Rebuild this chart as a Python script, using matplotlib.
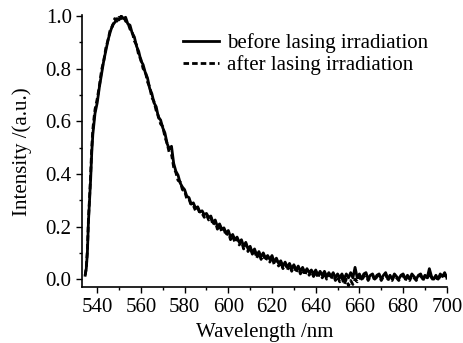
import numpy as np
import matplotlib
matplotlib.use("Agg")
import matplotlib.pyplot as plt
from matplotlib.ticker import MultipleLocator, FormatStrFormatter

plt.rcParams['font.family'] = ['Liberation Serif', 'DejaVu Serif']

# wavelength grid: fine steps on the steep rise, then 1 nm
wl_rise = [534.5, 535, 535.5, 536, 536.5, 537, 537.5, 538, 538.5]
wl_main = list(range(539, 701))
wavelength = wl_rise + wl_main

before = [0.015, 0.04, 0.10, 0.22, 0.30, 0.38, 0.48, 0.55, 0.59,
          0.63, 0.67, 0.73, 0.78, 0.83, 0.87, 0.91, 0.94, 0.965, 0.975,
          0.99, 0.985, 1.00, 0.99, 0.995, 0.97, 0.965, 0.935, 0.92, 0.885,
          0.865, 0.83, 0.815, 0.785, 0.765, 0.725, 0.705, 0.67, 0.655, 0.615,
          0.605, 0.575, 0.555, 0.515, 0.495, 0.505, 0.44, 0.41, 0.395, 0.365,
          0.35, 0.34, 0.315, 0.31, 0.285, 0.29, 0.27, 0.275, 0.255, 0.26,
          0.245, 0.25, 0.235, 0.24, 0.215, 0.225, 0.20, 0.21, 0.19, 0.195,
          0.175, 0.185, 0.16, 0.17, 0.15, 0.16, 0.14, 0.15, 0.125, 0.14,
          0.115, 0.125, 0.10, 0.115, 0.09, 0.105, 0.085, 0.10, 0.08, 0.09,
          0.075, 0.09, 0.065, 0.08, 0.06, 0.07, 0.05, 0.065, 0.045, 0.06,
          0.04, 0.055, 0.035, 0.05, 0.03, 0.045, 0.025, 0.04, 0.025, 0.035,
          0.02, 0.035, 0.015, 0.03, 0.015, 0.03, 0.01, 0.025, 0.01, 0.025,
          0.005, 0.02, 0.005, 0.02, 0.0, 0.02, 0.005, 0.025, 0.005, 0.045,
          0.005, 0.02, 0.0, 0.02, 0.025, 0.0, 0.015, 0.02, 0.0, 0.015,
          0.02, 0.0, 0.015, 0.025, 0.0, 0.015, 0.0, 0.02, 0.01, 0.0,
          0.015, 0.02, 0.0, 0.015, 0.0, 0.02, 0.01, 0.0, 0.015, 0.02,
          0.0, 0.015, 0.005, 0.04, 0.01, 0.0, 0.015, 0.0, 0.02, 0.01,
          0.025, 0.005]

after = [0.015, 0.045, 0.11, 0.23, 0.31, 0.40, 0.50, 0.57, 0.61,
         0.645, 0.685, 0.735, 0.795, 0.83, 0.88, 0.91, 0.95, 0.96, 0.99,
         0.98, 0.995, 0.99, 1.00, 0.98, 0.975, 0.95, 0.94, 0.905, 0.89,
         0.85, 0.835, 0.80, 0.79, 0.75, 0.73, 0.69, 0.675, 0.64, 0.62,
         0.59, 0.58, 0.54, 0.515, 0.48, 0.475, 0.425, 0.405, 0.375, 0.37,
         0.34, 0.335, 0.305, 0.305, 0.28, 0.28, 0.26, 0.27, 0.25, 0.25,
         0.235, 0.245, 0.225, 0.235, 0.205, 0.22, 0.19, 0.205, 0.18, 0.19,
         0.165, 0.18, 0.15, 0.165, 0.14, 0.155, 0.13, 0.145, 0.115, 0.135,
         0.105, 0.12, 0.095, 0.11, 0.08, 0.10, 0.075, 0.095, 0.07, 0.085,
         0.065, 0.085, 0.055, 0.075, 0.05, 0.065, 0.04, 0.06, 0.035, 0.055,
         0.03, 0.05, 0.025, 0.045, 0.02, 0.04, 0.015, 0.035, 0.015, 0.03,
         0.01, 0.03, 0.005, 0.025, 0.005, 0.025, 0.0, 0.02, 0.0, 0.02,
         -0.005, 0.01, -0.01, 0.005, -0.02, 0.0, -0.025, -0.005, -0.02, 0.0,
         -0.01, 0.01, -0.005, 0.01, 0.015, -0.005, 0.01, 0.015, -0.005, 0.01,
         0.015, -0.005, 0.01, 0.02, -0.005, 0.01, -0.005, 0.015, 0.005, -0.005,
         0.01, 0.015, -0.005, 0.01, -0.005, 0.015, 0.005, -0.005, 0.01, 0.015,
         -0.005, 0.01, 0.0, 0.025, 0.005, -0.005, 0.01, -0.005, 0.015, 0.005,
         0.02, 0.0]

fig = plt.figure(figsize=(4.64, 3.43), dpi=100)
ax = fig.add_axes([0.177, 0.163, 0.786, 0.792])

ax.plot(wavelength, before, color='black', lw=2.0, ls='-', label='before lasing irradiation')
ax.plot(wavelength, after, color='black', lw=2.0, ls=(0, (2.0, 1.1)), label='after lasing irradiation')

ax.set_xlim(533.1, 700)
ax.set_ylim(-0.03, 1.002)
ax.xaxis.set_major_locator(MultipleLocator(20))
ax.xaxis.set_minor_locator(MultipleLocator(10))
ax.yaxis.set_major_locator(MultipleLocator(0.2))
ax.yaxis.set_minor_locator(MultipleLocator(0.1))
ax.yaxis.set_major_formatter(FormatStrFormatter('%.1f'))

for s in ['top', 'right']:
    ax.spines[s].set_visible(False)
for s in ['left', 'bottom']:
    ax.spines[s].set_linewidth(1.2)

ax.tick_params(which='major', direction='out', length=4.5, width=1.0, labelsize=15, pad=3)
ax.tick_params(which='minor', direction='out', length=2.5, width=1.0)

ax.set_xlabel('Wavelength /nm', fontsize=15, labelpad=5)
ax.set_ylabel('Intensity /(a.u.)', fontsize=15, labelpad=10)

ax.legend(loc='upper left', bbox_to_anchor=(0.255, 0.965), frameon=False, fontsize=15,
          handlelength=1.7, handletextpad=0.4, labelspacing=0.1, borderaxespad=0)

fig.savefig('out.png', dpi=100)
